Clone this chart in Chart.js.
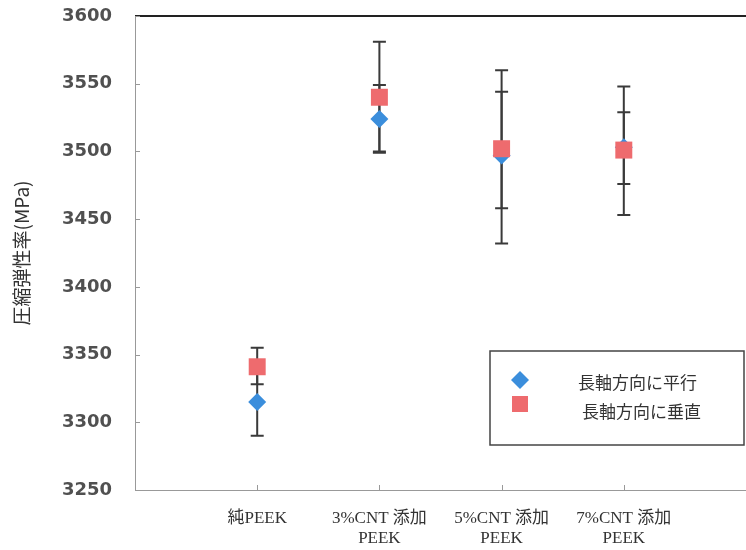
<!DOCTYPE html>
<html>
<head>
<meta charset="utf-8">
<script src="https://cdn.jsdelivr.net/npm/chart.js@4/dist/chart.umd.min.js"></script>
<style>
  body { margin: 0; background: #fff; }
  #wrap { width: 746px; height: 550px; }
</style>
</head>
<body>
<div id="wrap"><canvas id="modulusChart" width="746" height="550"></canvas></div>
<script>
// categories (x positions 1..4 on the linear axis)
const categories = [["純PEEK"], ["3%CNT 添加", "PEEK"], ["5%CNT 添加", "PEEK"], ["7%CNT 添加", "PEEK"]];
const yTicks = [3250, 3300, 3350, 3400, 3450, 3500, 3550, 3600];

// 長軸方向に平行
const parallel = [3315, 3524, 3497, 3503];
const parallelHigh = [3341, 3549, 3544, 3529];
const parallelLow = [3290, 3500, 3458, 3476];

// 長軸方向に垂直
const perpendicular = [3341, 3540, 3502, 3501];
const perpendicularHigh = [3355, 3581, 3560, 3548];
const perpendicularLow = [3328, 3499, 3432, 3453];

const seriesNames = ["長軸方向に平行", "長軸方向に垂直"];
const blue = "#3b8edc";
const red = "#ee6b6e";

function toPoints(values) {
    return values.map((v, i) => ({ x: i + 1, y: v }));
}

const chartDecor = {
    id: "chartDecor",
    beforeDatasetsDraw(chart) {
        const ctx = chart.ctx;
        const xs = chart.scales.x, ys = chart.scales.y;
        ctx.save();
        ctx.strokeStyle = "#3a3a3a";
        ctx.lineWidth = 2;
        chart.data.datasets.forEach(ds => {
            ds.data.forEach((pt, i) => {
                const px = xs.getPixelForValue(pt.x);
                const top = ys.getPixelForValue(ds.high[i]);
                const bot = ys.getPixelForValue(ds.low[i]);
                ctx.beginPath();
                ctx.moveTo(px, top); ctx.lineTo(px, bot);
                ctx.moveTo(px - 6.5, top); ctx.lineTo(px + 6.5, top);
                ctx.moveTo(px - 6.5, bot); ctx.lineTo(px + 6.5, bot);
                ctx.stroke();
            });
        });
        ctx.restore();
    },
    afterDraw(chart) {
        const ctx = chart.ctx;
        const area = chart.chartArea;
        const xs = chart.scales.x, ys = chart.scales.y;
        ctx.save();
        // top frame line
        ctx.strokeStyle = "#222";
        ctx.lineWidth = 2;
        ctx.beginPath();
        ctx.moveTo(area.left, area.top);
        ctx.lineTo(area.right, area.top);
        ctx.stroke();
        // small inside ticks
        ctx.strokeStyle = "#999";
        ctx.lineWidth = 1;
        ctx.beginPath();
        yTicks.forEach(t => {
            const py = Math.round(ys.getPixelForValue(t)) + 0.5;
            ctx.moveTo(area.left, py); ctx.lineTo(area.left + 5, py);
        });
        categories.forEach((c, i) => {
            const px = Math.round(xs.getPixelForValue(i + 1)) + 0.5;
            ctx.moveTo(px, area.bottom); ctx.lineTo(px, area.bottom - 5);
        });
        ctx.stroke();

        // legend box
        const lx = 490, ly = 351, lw = 254, lh = 94;
        ctx.fillStyle = "#fff";
        ctx.fillRect(lx, ly, lw, lh);
        ctx.strokeStyle = "#444";
        ctx.lineWidth = 1.5;
        ctx.strokeRect(lx, ly, lw, lh);
        // diamond
        ctx.fillStyle = blue;
        ctx.beginPath();
        ctx.moveTo(520, 371); ctx.lineTo(529, 380); ctx.lineTo(520, 389); ctx.lineTo(511, 380);
        ctx.closePath();
        ctx.fill();
        // square
        ctx.fillStyle = red;
        ctx.fillRect(512, 396, 16, 16);
        ctx.fillStyle = "#333";
        ctx.font = "17px 'Noto Sans CJK JP'";
        ctx.textBaseline = "middle";
        ctx.fillText(seriesNames[0], 578, 383);
        ctx.fillText(seriesNames[1], 582, 412);
        ctx.restore();
    }
};

document.addEventListener("DOMContentLoaded", function () {
    const ctx = document.getElementById("modulusChart").getContext("2d");
    new Chart(ctx, {
        type: "scatter",
        data: {
            datasets: [
                {
                    label: seriesNames[0],
                    data: toPoints(parallel),
                    high: parallelHigh,
                    low: parallelLow,
                    pointStyle: "rectRot",
                    pointRadius: 9,
                    pointHoverRadius: 9,
                    backgroundColor: blue,
                    borderColor: blue,
                    borderWidth: 0,
                    order: 1
                },
                {
                    label: seriesNames[1],
                    data: toPoints(perpendicular),
                    high: perpendicularHigh,
                    low: perpendicularLow,
                    pointStyle: "rect",
                    pointRadius: 12,
                    pointHoverRadius: 12,
                    backgroundColor: red,
                    borderColor: red,
                    borderWidth: 0,
                    order: 0
                }
            ]
        },
        options: {
            responsive: false,
            animation: false,
            layout: { autoPadding: false, padding: { left: 0, top: 16, right: 0, bottom: 0 } },
            plugins: {
                legend: { display: false },
                tooltip: { enabled: false }
            },
            scales: {
                x: {
                    type: "linear",
                    min: 0,
                    max: 5,
                    grid: { display: false, drawTicks: false },
                    border: { display: true, color: "#999", width: 1 },
                    afterFit: scale => {
                        scale.height = 60;
                        scale.paddingLeft = 0;
                        scale.paddingRight = 0;
                    },
                    afterBuildTicks: scale => {
                        scale.ticks = categories.map((c, i) => ({ value: i + 1 }));
                    },
                    ticks: {
                        padding: 18,
                        autoSkip: false,
                        maxRotation: 0,
                        color: "#333",
                        font: { family: "'Liberation Serif', 'Noto Sans CJK JP'", size: 17 },
                        callback: value => categories[value - 1] || ""
                    }
                },
                y: {
                    min: 3250,
                    max: 3600,
                    grid: { display: false, drawTicks: false },
                    border: { display: true, color: "#999", width: 1 },
                    afterFit: scale => {
                        scale.width = 135;
                        scale.paddingTop = 0;
                        scale.paddingBottom = 0;
                    },
                    ticks: {
                        stepSize: 50,
                        padding: 23,
                        color: "#505050",
                        font: { family: "'DejaVu Sans'", size: 18, weight: "bold" },
                        callback: value => String(value)
                    },
                    title: {
                        display: true,
                        text: "圧縮弾性率(MPa)",
                        color: "#333",
                        padding: { top: 10, bottom: 0 },
                        font: { family: "'Noto Sans CJK JP'", size: 19 }
                    }
                }
            }
        },
        plugins: [chartDecor]
    });
});
</script>
</body>
</html>
